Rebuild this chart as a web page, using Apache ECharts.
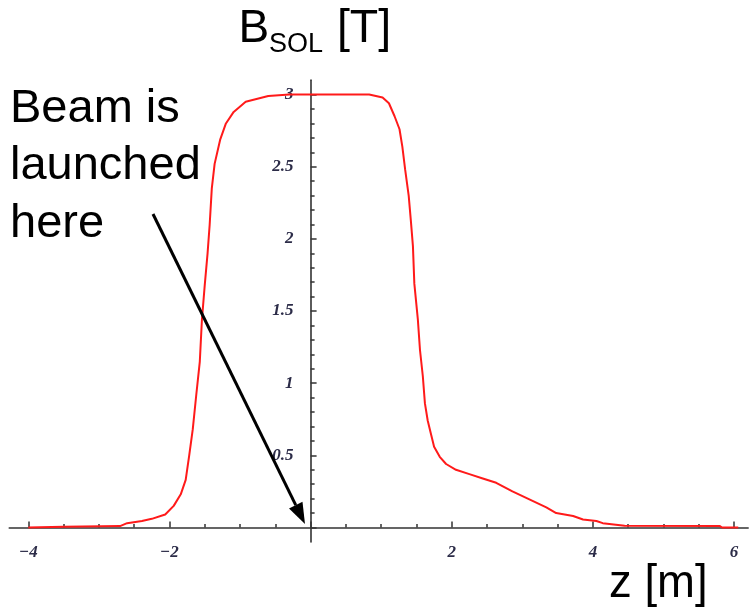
<!DOCTYPE html>
<html>
<head>
<meta charset="utf-8">
<script src="https://cdn.jsdelivr.net/npm/echarts@6/dist/echarts.min.js"></script>
<style>
  html, body { margin: 0; padding: 0; background: #ffffff; }
  #chart { width: 749px; height: 610px; }
</style>
</head>
<body>
<div id="chart"></div>
<script>
// z position [m]
const zValues = [-4.0, -3.5, -2.7, -2.6, -2.39, -2.25, -2.06, -1.94, -1.84, -1.77, -1.72, -1.67, -1.62, -1.57,
  -1.54, -1.50, -1.46, -1.43, -1.40, -1.36, -1.28, -1.20, -1.09, -0.92, -0.6, -0.3, 0.83, 1.02, 1.11, 1.19,
  1.26, 1.30, 1.34, 1.39, 1.42, 1.45, 1.47, 1.52, 1.55, 1.59, 1.62, 1.66, 1.71, 1.75, 1.83, 1.92, 2.06,
  2.25, 2.44, 2.63, 2.86, 3.10, 3.34, 3.48, 3.72, 3.86, 4.05, 4.14, 4.45, 5.8, 5.83, 6.06];
// solenoid field B_SOL [T]
const bValues = [0.0, 0.005, 0.01, 0.03, 0.045, 0.06, 0.09, 0.15, 0.23, 0.33, 0.5, 0.68, 0.92, 1.15,
  1.44, 1.68, 1.9, 2.1, 2.35, 2.52, 2.69, 2.8, 2.88, 2.95, 2.99, 3.0, 3.0, 2.98, 2.94, 2.85,
  2.76, 2.64, 2.48, 2.30, 2.13, 1.95, 1.69, 1.44, 1.23, 1.05, 0.86, 0.74, 0.64, 0.56, 0.49, 0.44, 0.40,
  0.37, 0.34, 0.31, 0.25, 0.195, 0.14, 0.10, 0.08, 0.055, 0.045, 0.03, 0.012, 0.01, 0.0, 0.0];
// tick labels shown
const xTickLabels = [-4, -2, 2, 4, 6];
const yTickLabels = [0.5, 1, 1.5, 2, 2.5, 3];

const curve = zValues.map((z, i) => [z, bValues[i]]);

const axisColor = '#333333';
const labelFont = {
  fontFamily: "'Liberation Serif', serif",
  fontStyle: 'italic',
  fontWeight: 'bold',
  fontSize: 17,
  color: '#2c2c48'
};

// pixel mapping used for layout of the grids
const x0 = 310.6, sx = 70.57, y0 = 527.5, sy = 144.3;
const ext = { xmin: -4.27, xmax: 6.2, ymin: -0.1, ymax: 3.1 };

const chart = echarts.init(document.getElementById('chart'), null, { renderer: 'canvas' });

const sansFont = "'Liberation Sans', Arial, sans-serif";
function txt(text, x, y, size) {
  return {
    type: 'text', silent: true,
    style: { text: text, x: x, y: y, font: size + 'px ' + sansFont, fill: '#000',
      textAlign: 'left', textVerticalAlign: 'middle', verticalAlign: 'middle' }
  };
}

// arrow geometry
const aStart = [153, 214], aTip = [305, 524];
const dx = aTip[0] - aStart[0], dy = aTip[1] - aStart[1];
const dl = Math.sqrt(dx * dx + dy * dy);
const ux = dx / dl, uy = dy / dl;
const headLen = 21, headHalf = 7.5;
const base = [aTip[0] - ux * headLen, aTip[1] - uy * headLen];

const noBounds = { containLabel: false, outerBoundsMode: 'none' };

chart.setOption({
  backgroundColor: '#ffffff',
  animation: false,
  grid: [
    // full axis lines + curve
    Object.assign({ left: x0 + ext.xmin * sx, width: (ext.xmax - ext.xmin) * sx,
      top: y0 - ext.ymax * sy, height: (ext.ymax - ext.ymin) * sy }, noBounds),
    // x ticks and labels
    Object.assign({ left: x0 - 4 * sx, width: 10 * sx, top: y0 - 3 * sy, height: 3 * sy }, noBounds),
    // y ticks and labels (left edge at z = 0)
    Object.assign({ left: x0, width: 6 * sx, top: y0 - 3 * sy, height: 3 * sy }, noBounds)
  ],
  xAxis: [
    { type: 'value', gridIndex: 0, min: ext.xmin, max: ext.xmax,
      axisLine: { show: true, onZero: true, lineStyle: { color: axisColor, width: 1.6 } },
      axisTick: { show: false }, axisLabel: { show: false }, splitLine: { show: false } },
    { type: 'value', gridIndex: 1, min: -4, max: 6, interval: 2,
      axisLine: { show: false, onZero: false },
      axisTick: { show: true, inside: true, length: 6, lineStyle: { color: axisColor, width: 1.5 } },
      minorTick: { show: true, splitNumber: 4, length: 3.5, lineStyle: { color: axisColor, width: 1.5 } },
      axisLabel: Object.assign({ margin: 17,
        formatter: v => xTickLabels.indexOf(v) >= 0 ? String(v).replace('-', '\u2212') : '' }, labelFont),
      splitLine: { show: false }, minorSplitLine: { show: false } },
    { type: 'value', gridIndex: 2, min: 0, max: 6, show: false }
  ],
  yAxis: [
    { type: 'value', gridIndex: 0, min: ext.ymin, max: ext.ymax,
      axisLine: { show: true, onZero: true, lineStyle: { color: axisColor, width: 1.6 } },
      axisTick: { show: false }, axisLabel: { show: false }, splitLine: { show: false } },
    { type: 'value', gridIndex: 1, min: 0, max: 3, show: false },
    { type: 'value', gridIndex: 2, min: 0, max: 3, interval: 0.5,
      axisLine: { show: false, onZero: false },
      axisTick: { show: true, inside: true, length: 6, lineStyle: { color: axisColor, width: 1.5 } },
      minorTick: { show: true, splitNumber: 5, length: 4, lineStyle: { color: axisColor, width: 1.5 } },
      axisLabel: Object.assign({ margin: 17,
        formatter: v => yTickLabels.indexOf(v) >= 0 ? String(v) : '' }, labelFont),
      splitLine: { show: false }, minorSplitLine: { show: false } }
  ],
  series: [{
    type: 'line', xAxisIndex: 0, yAxisIndex: 0, data: curve,
    showSymbol: false, smooth: false, clip: false,
    lineStyle: { color: '#ff1a1a', width: 2 }, z: 3
  }],
  graphic: [
    txt('Beam is', 10, 109, 47),
    txt('launched', 10, 166, 47),
    txt('here', 10, 224, 47),
    txt('B', 238.5, 29.4, 46),
    txt('SOL', 269, 44.8, 27),
    txt(' [T]', 324, 29.4, 46.5),
    txt('z [m]', 609, 584.4, 45.5),
    { type: 'line', silent: true, z: 10,
      shape: { x1: aStart[0], y1: aStart[1], x2: base[0], y2: base[1] },
      style: { stroke: '#000', lineWidth: 3 } },
    { type: 'polygon', silent: true, z: 10,
      shape: { points: [aTip,
        [base[0] - uy * headHalf, base[1] + ux * headHalf],
        [base[0] + uy * headHalf, base[1] - ux * headHalf]] },
      style: { fill: '#000' } }
  ]
});
</script>
</body>
</html>
